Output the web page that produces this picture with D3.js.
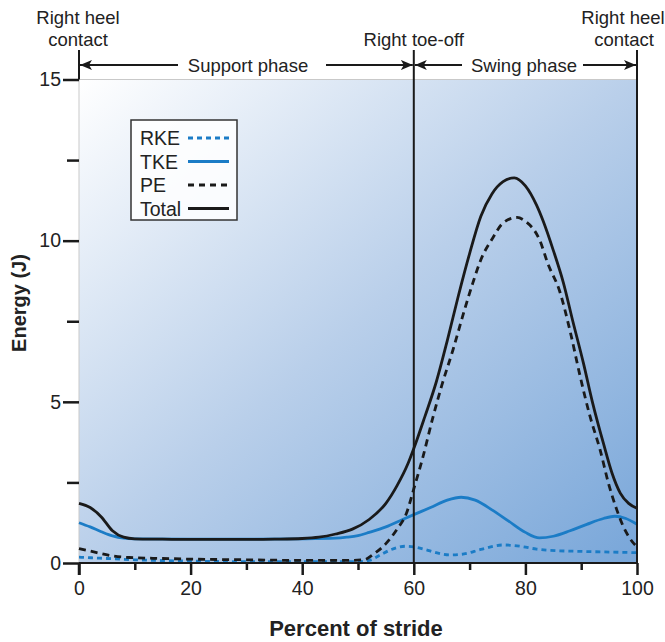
<!DOCTYPE html>
<html>
<head>
<meta charset="utf-8">
<script src="https://cdn.jsdelivr.net/npm/d3@7"></script>
<style>
  html, body { margin: 0; padding: 0; background: #ffffff; }
  svg { display: block; font-family: "Liberation Sans", Arial, Helvetica, sans-serif; }
</style>
</head>
<body>
<svg id="chart" width="665" height="642"></svg>
<script>
// ---- Data (percent of stride, energy in J) ----
const totalX = [0, 2, 4, 6, 8, 10, 15, 20, 25, 30, 35, 40, 43, 46, 49, 52, 55, 57, 59, 60, 62, 64, 66, 68, 70, 72, 74, 76, 78, 80, 82, 83.2, 85, 86.8, 88.5, 90.4, 92, 94, 95.5, 97, 98.5, 100];
const totalY = [1.85, 1.72, 1.43, 1.0, 0.8, 0.75, 0.74, 0.73, 0.73, 0.73, 0.74, 0.76, 0.8, 0.9, 1.05, 1.35, 1.85, 2.4, 3.1, 3.55, 4.55, 5.6, 6.9, 8.3, 9.6, 10.75, 11.45, 11.83, 11.95, 11.7, 11.1, 10.6, 9.7, 8.7, 7.5, 6.2, 5.0, 3.7, 2.8, 2.17, 1.85, 1.7];

const tkeX = [0, 2, 4, 6, 8, 10, 20, 30, 40, 46, 48, 50, 52, 55, 58, 60, 63, 66, 68.5, 71, 74, 77, 80, 82.5, 85, 88, 91, 94, 96, 98, 100];
const tkeY = [1.25, 1.12, 0.97, 0.84, 0.77, 0.75, 0.74, 0.74, 0.75, 0.77, 0.8, 0.85, 0.95, 1.12, 1.35, 1.5, 1.72, 1.95, 2.04, 1.95, 1.65, 1.3, 0.95, 0.78, 0.83, 1.0, 1.2, 1.38, 1.45, 1.38, 1.2];

const peX = [0, 3, 6, 9, 15, 20, 30, 40, 48, 51, 53, 55, 57, 58.7, 60, 61.5, 63.4, 65, 67, 69, 70.6, 72, 74.2, 76, 78.5, 80, 82.6, 84, 86.2, 88, 89.8, 91.5, 93.4, 95, 96.4, 97.5, 98.7, 100];
const peY = [0.45, 0.33, 0.22, 0.17, 0.14, 0.12, 0.1, 0.08, 0.08, 0.1, 0.3, 0.6, 1.05, 1.55, 2.3, 3.2, 4.5, 5.5, 6.6, 7.8, 8.7, 9.4, 10.1, 10.55, 10.72, 10.6, 10.0, 9.3, 8.4, 7.2, 5.8, 4.6, 3.5, 2.4, 1.64, 1.15, 0.77, 0.5];

const rkeX = [0, 5, 10, 20, 30, 40, 50, 52, 54, 56, 58.5, 60, 62, 64, 66.5, 69, 72, 76, 79, 82, 86, 90, 95, 100];
const rkeY = [0.18, 0.14, 0.1, 0.06, 0.04, 0.04, 0.04, 0.08, 0.25, 0.42, 0.52, 0.5, 0.42, 0.32, 0.25, 0.28, 0.42, 0.56, 0.52, 0.43, 0.38, 0.36, 0.34, 0.32];

const xMajorTicks = [0, 20, 40, 60, 80, 100];
const xMinorTicks = [10, 30, 50, 70, 90];
const yMajorTicks = [0, 5, 10, 15];
const yMinorTicks = [2.5, 7.5, 12.5];

const legendLabels = ["RKE", "TKE", "PE", "Total"];
const xTitle = "Percent of stride";
const yTitle = "Energy (J)";

// ---- Layout ----
const svg = d3.select("#chart");
const L = 79, R = 637, T = 79.5, B = 563;
const x = d3.scaleLinear().domain([0, 100]).range([L, R]);
const y = d3.scaleLinear().domain([0, 15]).range([B, T]);
const blue = "#1b7cc6";
const black = "#1a1a1a";

const defs = svg.append("defs");
const grad = defs.append("linearGradient").attr("id", "bg")
  .attr("x1", "0").attr("y1", "0").attr("x2", "1").attr("y2", "1");
grad.append("stop").attr("offset", "0").attr("stop-color", "#ffffff");
grad.append("stop").attr("offset", "0.5").attr("stop-color", "#b9cfea");
grad.append("stop").attr("offset", "1").attr("stop-color", "#78a6d9");

svg.append("rect").attr("x", L).attr("y", T).attr("width", R - L).attr("height", B - T)
  .attr("fill", "url(#bg)").attr("stroke", "#c9c9c9").attr("stroke-width", 1);

// ---- Series ----
function series(xs, ys) { return xs.map((v, i) => [v, ys[i]]); }
const line = d3.line().x(d => x(d[0])).y(d => y(d[1])).curve(d3.curveMonotoneX);
const plotG = svg.append("g");

plotG.append("path").datum(series(rkeX, rkeY)).attr("d", line)
  .attr("fill", "none").attr("stroke", blue).attr("stroke-width", 2.8).attr("stroke-dasharray", "5,4");
plotG.append("path").datum(series(tkeX, tkeY)).attr("d", line)
  .attr("fill", "none").attr("stroke", blue).attr("stroke-width", 2.8);
plotG.append("path").datum(series(peX, peY)).attr("d", line)
  .attr("fill", "none").attr("stroke", black).attr("stroke-width", 2.8).attr("stroke-dasharray", "7,5");
plotG.append("path").datum(series(totalX, totalY)).attr("d", line)
  .attr("fill", "none").attr("stroke", black).attr("stroke-width", 2.8);

// ---- Vertical event lines ----
svg.append("line").attr("x1", x(0)).attr("x2", x(0)).attr("y1", 50).attr("y2", T)
  .attr("stroke", black).attr("stroke-width", 2);
svg.append("line").attr("x1", x(60)).attr("x2", x(60)).attr("y1", 50).attr("y2", B)
  .attr("stroke", black).attr("stroke-width", 2);
svg.append("line").attr("x1", x(100)).attr("x2", x(100)).attr("y1", 50).attr("y2", B)
  .attr("stroke", black).attr("stroke-width", 2);

// ---- Axes ----
const xAxisMajor = d3.axisBottom(x).tickValues(xMajorTicks).tickSize(12).tickPadding(5);
const xg = svg.append("g").attr("transform", `translate(0,${B})`).call(xAxisMajor);
xg.select(".domain").attr("stroke", black).attr("stroke-width", 2.2).attr("d", `M${L},0H${R}`);
xg.selectAll(".tick line").attr("stroke", black).attr("stroke-width", 2.5);
xg.selectAll(".tick text").attr("font-size", 19.5).attr("fill", "#222").attr("dy", "0.75em");
const xgm = svg.append("g").attr("transform", `translate(0,${B})`)
  .call(d3.axisBottom(x).tickValues(xMinorTicks).tickSize(7).tickFormat(""));
xgm.select(".domain").remove();
xgm.selectAll(".tick line").attr("stroke", black).attr("stroke-width", 2.5);

const yg = svg.append("g").attr("transform", `translate(${L},0)`)
  .call(d3.axisLeft(y).tickValues(yMajorTicks).tickSize(16).tickPadding(2));
yg.select(".domain").remove();
yg.selectAll(".tick line").attr("stroke", black).attr("stroke-width", 2.5);
yg.selectAll(".tick text").attr("font-size", 19.5).attr("fill", "#222");
const ygm = svg.append("g").attr("transform", `translate(${L},0)`)
  .call(d3.axisLeft(y).tickValues(yMinorTicks).tickSize(12).tickFormat(""));
ygm.select(".domain").remove();
ygm.selectAll(".tick line").attr("stroke", black).attr("stroke-width", 2.5);
svg.append("line").attr("x1", L).attr("x2", L).attr("y1", B).attr("y2", B + 12)
  .attr("stroke", black).attr("stroke-width", 2.5);

// ---- Titles ----
svg.append("text").attr("x", 356).attr("y", 636).attr("text-anchor", "middle")
  .attr("font-size", 22).attr("font-weight", "bold").attr("fill", "#222").text(xTitle);
svg.append("text").attr("transform", "translate(26,303) rotate(-90)").attr("text-anchor", "middle")
  .attr("font-size", 20).attr("font-weight", "bold").attr("fill", "#222").text(yTitle);

// ---- Top annotations ----
const ann = svg.append("g").attr("font-size", 18.5).attr("fill", "#222").attr("text-anchor", "middle");
ann.append("text").attr("x", 78).attr("y", 24).text("Right heel");
ann.append("text").attr("x", 78).attr("y", 46).text("contact");
ann.append("text").attr("x", x(60)).attr("y", 46).text("Right toe-off");
ann.append("text").attr("x", 623).attr("y", 24).text("Right heel");
ann.append("text").attr("x", 624).attr("y", 46).text("contact");

defs.append("marker").attr("id", "ah").attr("viewBox", "0 0 12 10").attr("refX", 12).attr("refY", 5)
  .attr("markerWidth", 12).attr("markerHeight", 10).attr("markerUnits", "userSpaceOnUse")
  .attr("orient", "auto-start-reverse")
  .append("path").attr("d", "M0,0 L12,5 L0,10 L3,5 Z").attr("fill", black);

const arrowY = 65;
function arrowSeg(x1, x2, startHead, endHead) {
  const l = svg.append("line").attr("x1", x1).attr("x2", x2).attr("y1", arrowY).attr("y2", arrowY)
    .attr("stroke", black).attr("stroke-width", 2);
  if (startHead) l.attr("marker-start", "url(#ah)");
  if (endHead) l.attr("marker-end", "url(#ah)");
}
arrowSeg(x(0) + 1, 178, true, false);
arrowSeg(326, x(60) - 1, false, true);
arrowSeg(x(60) + 1, 462, true, false);
arrowSeg(583, x(100) - 1, false, true);
ann.append("text").attr("x", 248).attr("y", arrowY + 6.5).text("Support phase");
ann.append("text").attr("x", 524).attr("y", arrowY + 6.5).text("Swing phase");

// ---- Legend ----
const lg = svg.append("g");
lg.append("rect").attr("x", 131).attr("y", 120).attr("width", 106).attr("height", 100)
  .attr("fill", "#ffffff").attr("fill-opacity", 0.85).attr("stroke", "#333").attr("stroke-width", 1.5);
const legendStyles = [
  {color: blue, dash: "5,4"},
  {color: blue, dash: null},
  {color: black, dash: "6,5"},
  {color: black, dash: null}
];
legendLabels.forEach((lab, i) => {
  const cy = 138 + i * 23.5;
  lg.append("text").attr("x", 140).attr("y", cy + 7).attr("font-size", 19.5).attr("fill", "#222").text(lab);
  const ln = lg.append("line").attr("x1", 188).attr("x2", 229).attr("y1", cy).attr("y2", cy)
    .attr("stroke", legendStyles[i].color).attr("stroke-width", 2.8);
  if (legendStyles[i].dash) ln.attr("stroke-dasharray", legendStyles[i].dash);
});
</script>
</body>
</html>
